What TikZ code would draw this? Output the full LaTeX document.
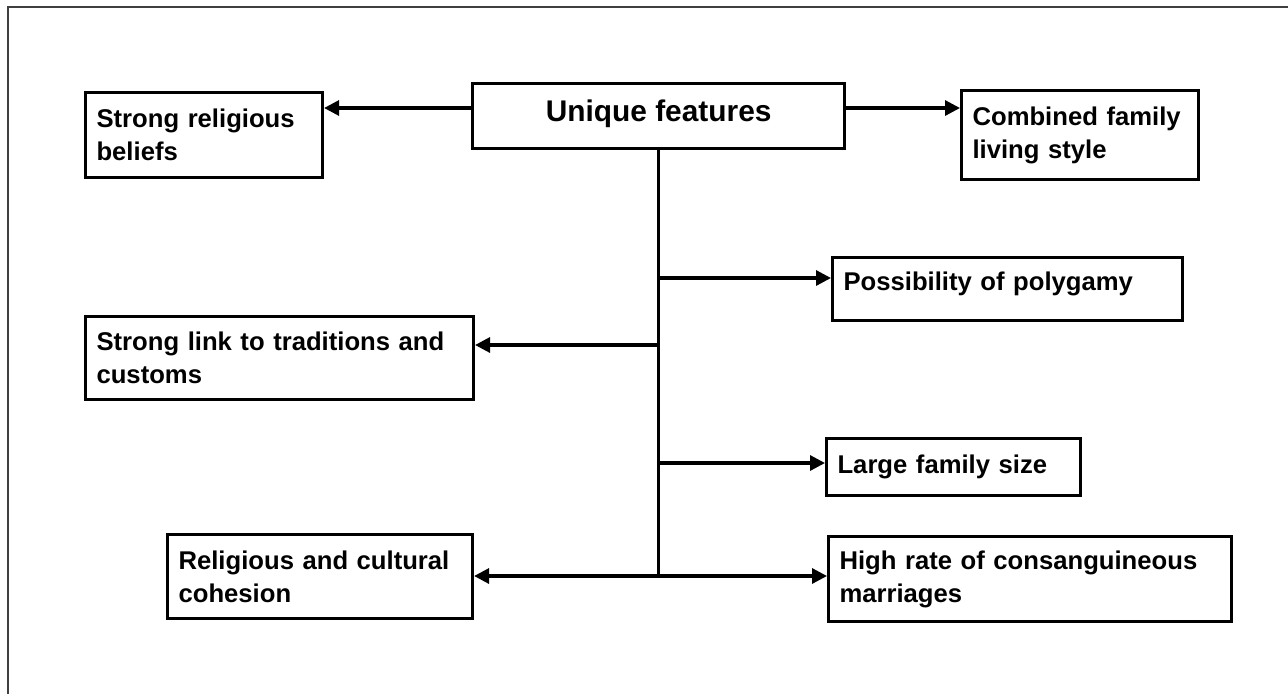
\documentclass[tikz,border=0pt]{standalone}
\usepackage{fontspec}
\setmainfont{Liberation Sans}
\usetikzlibrary{arrows.meta}

\tikzset{
  feat/.style={draw,line width=1.9pt,anchor=north west,align=left,
    inner xsep=6.2pt,inner ysep=0pt,
    font=\bfseries\fontsize{14.6}{18.8}\selectfont},
  link/.style={line width=1.8pt},
  arr/.style={link,-{Triangle[length=0.3cm,width=0.3cm]}}
}

\begin{document}
\begin{tikzpicture}[x=0.02cm,y=-0.02cm]
\useasboundingbox (0,0) rectangle (1288,694);
\draw[line width=1pt,black!75] (8,694)--(8,7)--(1288,7);

% boxes
\node[draw,line width=1.9pt,anchor=north west,minimum width=7.44cm,minimum height=1.3cm,
  inner sep=0pt,font=\bfseries\fontsize{17}{20}\selectfont] (uniq) at (471,82)
  {\raisebox{0.2cm}{Unique features}};
\node[feat,text width=4.3cm,minimum height=1.7cm] (rel) at (84,91)
  {Strong religious\\beliefs};
\node[feat,text width=4.3cm,minimum height=1.78cm] (comb) at (960,89)
  {Combined family\\living style};
\node[feat,text width=6.56cm,minimum height=1.26cm] (poly) at (831,256)
  {Possibility of polygamy\rule[-0.3cm]{0pt}{0.3cm}};
\node[feat,text width=7.32cm,minimum height=1.66cm] (trad) at (84,315)
  {Strong link to traditions and\\customs};
\node[feat,text width=4.64cm,minimum height=1.14cm] (size) at (825,437)
  {Large family size};
\node[feat,text width=5.66cm,minimum height=1.68cm] (coh) at (166,533)
  {Religious and cultural\\cohesion};
\node[feat,text width=7.62cm,minimum height=1.7cm] (cons) at (827,535)
  {High rate of consanguineous\\marriages};

% junctions on the trunk
\coordinate (top) at (657,108);
\coordinate (j1) at (uniq.south |- 0,278);
\coordinate (j2) at (uniq.south |- 0,345);
\coordinate (j3) at (uniq.south |- 0,463);
\coordinate (j4) at (uniq.south |- 0,576);

\draw[arr] (uniq.west |- top) -- (rel.east |- top);
\draw[arr] (uniq.east |- top) -- (comb.west |- top);
\draw[link] (uniq.south) -- (j4);
\draw[arr] (j1) -- (poly.west |- j1);
\draw[arr] (j2) -- (trad.east |- j2);
\draw[arr] (j3) -- (size.west |- j3);
\draw[arr] (j4) -- (coh.east |- j4);
\draw[arr] (j4) -- (cons.west |- j4);
\end{tikzpicture}
\end{document}
